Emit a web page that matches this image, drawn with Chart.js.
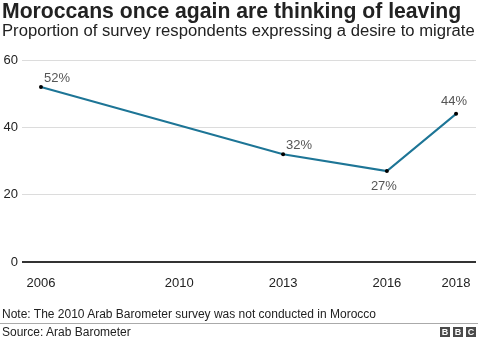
<!DOCTYPE html>
<html>
<head>
<meta charset="utf-8">
<script src="https://cdn.jsdelivr.net/npm/chart.js@4"></script>
<style>
  body { margin: 0; background: #fff; font-family: "Liberation Sans", Arial, sans-serif; }
  #wrap { position: relative; width: 480px; height: 339px; overflow: hidden; }
  #chart { position: absolute; left: 0; top: 0; }
  .txt { position: absolute; left: 2px; white-space: nowrap; color: #222; }
  #title { top: -1px; font-size: 21.2px; font-weight: bold; }
  #subtitle { top: 21px; font-size: 16.65px; }
  #note { top: 307px; font-size: 12px; }
  #rule { position: absolute; left: 0; top: 323px; width: 478px; height: 1px; background: #aaa; }
  #source { top: 325px; font-size: 12px; }
  #bbc { position: absolute; left: 440px; top: 327px; display: flex; gap: 3px; }
  #bbc span { width: 10px; height: 10px; background: #4a4a4a; color: #fff; font: bold 9px "Liberation Sans", Arial, sans-serif; line-height: 10px; text-align: center; }
</style>
</head>
<body>
<div id="wrap">
  <canvas id="chart" width="480" height="339"></canvas>
  <div class="txt" id="title">Moroccans once again are thinking of leaving</div>
  <div class="txt" id="subtitle">Proportion of survey respondents expressing a desire to migrate</div>
  <div class="txt" id="note">Note: The 2010 Arab Barometer survey was not conducted in Morocco</div>
  <div id="rule"></div>
  <div class="txt" id="source">Source: Arab Barometer</div>
  <div id="bbc"><span>B</span><span>B</span><span>C</span></div>
</div>
<script>
const years = [2006, 2013, 2016, 2018];
const shares = [52, 32, 27, 44];
const yearTicks = [2006, 2010, 2013, 2016, 2018];
const valueTicks = [0, 20, 40, 60];
const labelPlacement = ['right', 'right', 'below', 'above'];

const pointLabels = {
  id: 'pointLabels',
  afterDatasetsDraw(chart) {
    const ctx = chart.ctx;
    const meta = chart.getDatasetMeta(0);
    ctx.save();
    ctx.font = '13px "Liberation Sans", Arial, sans-serif';
    ctx.fillStyle = '#555';
    ctx.textBaseline = 'middle';
    meta.data.forEach((pt, i) => {
      const txt = shares[i] + '%';
      let x = pt.x, y = pt.y;
      const where = labelPlacement[i];
      if (where === 'right') { ctx.textAlign = 'left'; x += 3; y -= 9; }
      else if (where === 'below') { ctx.textAlign = 'center'; x -= 3; y += 15; }
      else { ctx.textAlign = 'center'; x -= 2; y -= 12; }
      ctx.fillText(txt, x, y);
    });
    ctx.restore();
  }
};

const ctx = document.getElementById('chart').getContext('2d');
const chart = new Chart(ctx, {
  type: 'line',
  data: {
    datasets: [{
      data: years.map((y, i) => ({ x: y, y: shares[i] })),
      borderColor: '#1d7596',
      borderWidth: 2,
      pointRadius: 2,
      pointBackgroundColor: '#000',
      pointBorderWidth: 0,
      tension: 0
    }]
  },
  options: {
    responsive: false,
    animation: false,
    layout: { padding: { top: 60, bottom: 47, left: 0, right: 3 } },
    plugins: { legend: { display: false }, tooltip: { enabled: false } },
    scales: {
      x: {
        type: 'linear',
        min: 2005.452,
        max: 2018.576,
        afterBuildTicks: (scale) => { scale.ticks = yearTicks.map(v => ({ value: v })); },
        afterFit: (scale) => { scale.height = 30; scale.paddingLeft = 0; scale.paddingRight = 0; },
        grid: { display: false, drawTicks: false },
        border: { display: false },
        ticks: {
          padding: 14,
          color: '#222',
          font: { family: '"Liberation Sans", Arial, sans-serif', size: 13 },
          callback: (v) => String(v),
          maxRotation: 0,
          autoSkip: false
        }
      },
      y: {
        min: 0,
        max: 60,
        afterBuildTicks: (scale) => { scale.ticks = valueTicks.map(v => ({ value: v })); },
        afterFit: (scale) => { scale.width = 22; },
        border: { display: false },
        grid: {
          drawTicks: false,
          color: (c) => c.tick && c.tick.value === 0 ? '#333' : '#dcdcdc',
          lineWidth: (c) => c.tick && c.tick.value === 0 ? 2 : 1
        },
        ticks: {
          padding: 4,
          color: '#222',
          font: { family: '"Liberation Sans", Arial, sans-serif', size: 13 }
        }
      }
    }
  },
  plugins: [pointLabels]
});
</script>
</body>
</html>
